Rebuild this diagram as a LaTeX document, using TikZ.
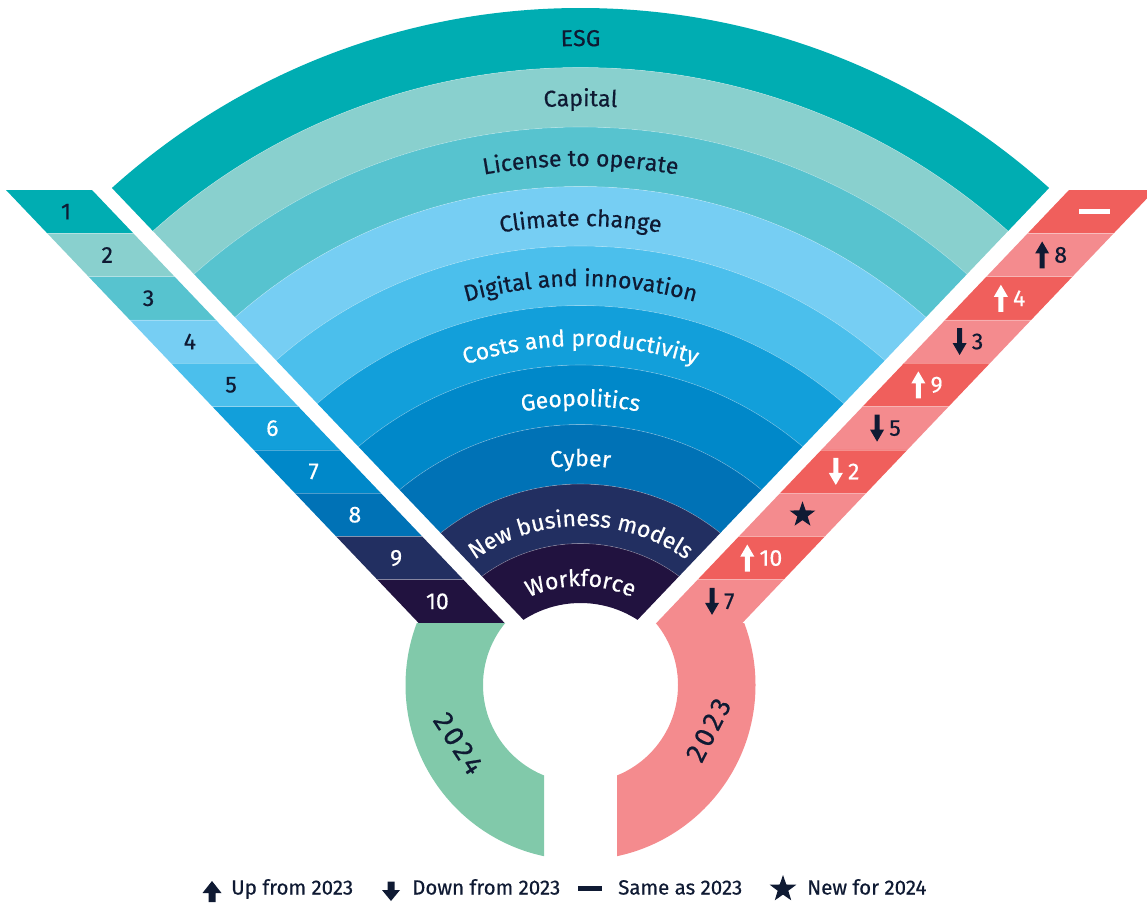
\documentclass[tikz,border=0pt]{standalone}
\usepackage{fontspec}
\setmainfont{Fira Sans}[FakeBold=0.5]
\usepackage{tikz}
\usetikzlibrary{calc,shapes.geometric,decorations.text}

\definecolor{esg}{HTML}{00ADB2}
\definecolor{capital}{HTML}{89D0CE}
\definecolor{license}{HTML}{57C3CF}
\definecolor{climate}{HTML}{76CEF3}
\definecolor{digital}{HTML}{4BBFEC}
\definecolor{costs}{HTML}{129FDA}
\definecolor{geo}{HTML}{0088C9}
\definecolor{cyber}{HTML}{0072B6}
\definecolor{nbm}{HTML}{222F61}
\definecolor{work}{HTML}{21123F}
\definecolor{redA}{HTML}{F05F5C}
\definecolor{redB}{HTML}{F48B8E}
\definecolor{yrgreen}{HTML}{81C9AA}
\definecolor{ink}{HTML}{0F1A33}

\newcommand{\fanfont}{\fontsize{23}{27}\selectfont}
\newcommand{\rankfont}{\fontsize{23}{27}\selectfont}
\newcommand{\keyfont}{\fontsize{20.5}{24}\selectfont}
\newcommand{\yearfont}{\fontsize{28}{32}\selectfont\addfontfeature{LetterSpace=12}}

\begin{document}
\begin{tikzpicture}[x=1pt,y=-1pt]

\tikzset{rankno/.style={font=\rankfont, inner sep=0pt},
keytext/.style={font=\keyfont, text=ink, inner sep=0pt, anchor=base west},
rankmark/.pic={\fill (-2.5,13.5) -- (-2.5,-1.5) -- (-7,-1.5) -- (0,-13.5) -- (7,-1.5) -- (2.5,-1.5) -- (2.5,13.5) -- cycle;},
sep/.style={white, opacity=.3, line width=.6pt}}

\useasboundingbox (0,0) rectangle (1147,902);

\coordinate (C) at (580.5,708);
\coordinate (R) at (580.5,685);

%fan of topics
\begin{scope}
\clip (580.5,679.7) -- (-86.3,-20) -- (1247.3,-20) -- cycle;
\foreach \i/\col in {0/esg, 1/capital, 2/license, 3/climate, 4/digital, 5/costs, 6/geo, 7/cyber, 8/nbm, 9/work}
{
\pgfmathsetmacro{\ro}{700-59.5*\i}
\pgfmathsetmacro{\ri}{\ro-59.5}
\fill[\col, even odd rule] (C) circle[radius=\ro] (C) circle[radius=\ri];
}
\foreach \i in {1,...,9}
\draw[sep] (C) circle[radius={700-59.5*\i}];
\end{scope}

\foreach \i/\txt/\ink in {0/ESG/ink, 1/Capital/ink, 2/License to operate/ink, 3/Climate change/ink, 4/Digital and innovation/ink, 5/Costs and productivity/white, 6/Geopolitics/white, 7/Cyber/white, 8/New business models/white, 9/Workforce/white}
{
\pgfmathsetmacro{\rb}{662-60*\i}
\path[decorate, decoration={text along path, text/.expanded={|\noexpand\fanfont|\txt}, text align=center, text color=\ink}] ($(C)+(-130:\rb)$) arc[start angle=-130, end angle=-50, radius=\rb];
}

%2024 ranking
\foreach \k/\col/\ink [count=\n] in {0/esg/ink, 1/capital/ink, 2/license/ink, 3/climate/ink, 4/digital/ink, 5/costs/white, 6/geo/white, 7/cyber/white, 8/nbm/white, 9/work/white}
{
\pgfmathsetmacro{\yt}{190+43.3*\k}
\pgfmathsetmacro{\yb}{\yt+43.3}
\pgfmathsetmacro{\xt}{6+41.265*\k}
\pgfmathsetmacro{\xb}{\xt+41.265}
\fill[\col] (\xt,\yt) -- (\xt+86,\yt) -- (\xb+86,\yb) -- (\xb,\yb) -- cycle;
\ifnum\k>0 \draw[sep] (\xt,\yt) -- (\xt+86,\yt); \fi
\node[rankno, text=\ink] (rank\n) at (\xt+60,\yt+21.65) {\n};
}

%2023 ranking
\foreach \k/\col in {0/redA, 1/redB, 2/redA, 3/redB, 4/redA, 5/redB, 6/redA, 7/redB, 8/redA, 9/redB}
{
\pgfmathsetmacro{\yt}{190+43.3*\k}
\pgfmathsetmacro{\yb}{\yt+43.3}
\pgfmathsetmacro{\xt}{1069-41.265*\k}
\pgfmathsetmacro{\xb}{\xt-41.265}
\fill[\col] (\xt,\yt) -- (\xt+86,\yt) -- (\xb+86,\yb) -- (\xb,\yb) -- cycle;
\ifnum\k>0 \draw[sep] (\xt,\yt) -- (\xt+86,\yt); \fi
}

\foreach \k/\rot/\num/\ink in {1/0/8/ink, 2/0/4/white, 3/180/3/ink, 4/0/9/white, 5/180/5/ink, 6/180/2/white, 8/0/10/white, 9/180/7/ink}
{
\pgfmathsetmacro{\xc}{1091.4-41.265*\k}
\pgfmathsetmacro{\yc}{211.65+43.3*\k}
\pgfmathsetmacro{\xa}{\xc-8-(\num>9)*6}
\pic[color=\ink, rotate=\rot] at (\xa,\yc) {rankmark};
\node[rankno, anchor=west, text=\ink] (move\k) at (\xa+12,\yc) {\num};
}
\fill[white] (1079,209) rectangle (1110,214);
\node[star, star points=5, star point ratio=2.5, fill=ink, inner sep=0pt, minimum size=27pt] (newmark) at (802.5,514.75) {};

%year ring
\begin{scope}
\clip (0,623) rectangle (544,902);
\fill[yrgreen, even odd rule] (R) circle[radius=175] (R) circle[radius=97.5];
\end{scope}
\begin{scope}
\clip (617,623) rectangle (1147,902);
\fill[redB, even odd rule] (R) circle[radius=175] (R) circle[radius=97.5];
\end{scope}
\node[font=\yearfont, text=ink, rotate=-57] (y2024) at (458.5,743.5) {2024};
\node[font=\yearfont, text=ink, rotate=63] (y2023) at (708.5,730) {2023};

%key
\fill[ink] (208.5,902) -- (208.5,893) -- (202.5,893) -- (212,881) -- (221.5,893) -- (215.5,893) -- (215.5,902) -- cycle;
\node[keytext] (keyup) at (231,894.5) {Up from 2023};
\fill[ink] (387.5,881.5) -- (387.5,890) -- (382,890) -- (391,901) -- (400,890) -- (394.5,890) -- (394.5,881.5) -- cycle;
\node[keytext] (keydown) at (412,894.5) {Down from 2023};
\fill[ink] (578,886) rectangle (602,891);
\node[keytext] (keysame) at (618,894.5) {Same as 2023};
\node[star, star points=5, star point ratio=2.5, fill=ink, inner sep=0pt, minimum size=28pt] (keystar) at (783,889) {};
\node[keytext] (keynew) at (807,894.5) {New for 2024};

\end{tikzpicture}
\end{document}
